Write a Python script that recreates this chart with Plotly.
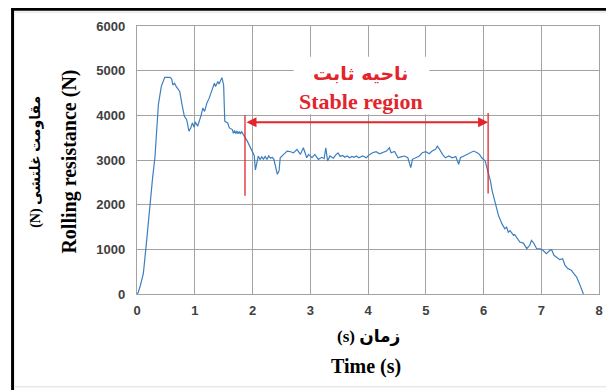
import plotly.graph_objects as go

# ---------------- data ----------------
time_s = [0.00, 0.02, 0.06, 0.11, 0.16, 0.22, 0.27, 0.31, 0.34, 0.37, 0.42, 0.48, 0.57, 0.60, 0.62, 0.65,
          0.68, 0.74, 0.78, 0.82, 0.86, 0.90, 0.93, 0.96, 0.99, 1.01, 1.05, 1.08, 1.11, 1.14, 1.17, 1.21,
          1.25, 1.30, 1.34, 1.36, 1.40, 1.42, 1.45, 1.47, 1.50, 1.52, 1.57, 1.60, 1.65, 1.67, 1.69, 1.71,
          1.73, 1.75, 1.77, 1.79, 1.81, 1.83, 1.85, 1.91, 1.97, 2.03, 2.05, 2.07, 2.10, 2.13, 2.16, 2.19,
          2.22, 2.25, 2.28, 2.31, 2.34, 2.37, 2.41, 2.43, 2.46, 2.48, 2.54, 2.60, 2.66, 2.71, 2.77, 2.83,
          2.88, 2.91, 2.94, 2.97, 3.00, 3.03, 3.08, 3.14, 3.20, 3.24, 3.27, 3.30, 3.34, 3.40, 3.44, 3.48,
          3.52, 3.56, 3.60, 3.64, 3.68, 3.72, 3.76, 3.80, 3.84, 3.88, 3.91, 3.97, 4.03, 4.08, 4.14, 4.20,
          4.26, 4.32, 4.37, 4.40, 4.46, 4.52, 4.57, 4.63, 4.69, 4.74, 4.77, 4.83, 4.89, 4.94, 5.00, 5.06,
          5.11, 5.17, 5.20, 5.24, 5.29, 5.34, 5.40, 5.46, 5.52, 5.57, 5.60, 5.66, 5.71, 5.77, 5.83, 5.89,
          5.93, 5.97, 6.03, 6.08, 6.12, 6.15, 6.18, 6.22, 6.26, 6.32, 6.37, 6.40, 6.43, 6.46, 6.52, 6.54,
          6.57, 6.63, 6.69, 6.75, 6.80, 6.83, 6.87, 6.92, 6.98, 7.03, 7.09, 7.15, 7.18, 7.22, 7.26, 7.32,
          7.37, 7.41, 7.46, 7.52, 7.56, 7.61, 7.66, 7.71, 7.73]

resistance_n = [0, 30, 200, 460, 1100, 2015, 2600, 3050, 3700, 4237, 4644, 4851, 4851, 4820, 4680, 4718,
                4644, 4533, 4237, 3978, 3904, 3644, 3718, 3830, 3733, 3852, 3756, 3867, 4000, 4163, 4089, 4274,
                4385, 4570, 4718, 4644, 4756, 4700, 4780, 4844, 4680, 3867, 3830, 3718, 3681, 3600, 3660, 3590,
                3650, 3590, 3640, 3580, 3640, 3580, 3550, 3422, 3250, 3100, 2780, 2900, 3089, 3010, 3070, 3020,
                3080, 3010, 3090, 3040, 3060, 3015, 2830, 2681, 2755, 3051, 3126, 3200, 3185, 3160, 3237, 3126,
                3274, 3160, 3051, 3126, 3080, 3051, 3126, 3015, 3060, 3030, 3274, 2977, 3090, 3040, 3110, 3160,
                3080, 3100, 3060, 3090, 3050, 3080, 3060, 3090, 3050, 3070, 3089, 3050, 3126, 3163, 3185, 3140,
                3170, 3200, 3274, 3163, 3190, 3051, 3070, 3089, 3050, 2830, 3015, 3060, 3090, 3163, 3185, 3140,
                3200, 3237, 3311, 3237, 3126, 3050, 3090, 3050, 3080, 2904, 3050, 3090, 3120, 3163, 3200, 3163,
                3126, 3050, 2977, 2720, 2533, 2311, 2163, 1941, 1756, 1570, 1459, 1496, 1385, 1420, 1311, 1330,
                1274, 1163, 1140, 1015, 1090, 1200, 1140, 1015, 1010, 978, 904, 978, 990, 867, 830, 770,
                790, 644, 570, 533, 460, 385, 237, 89, 0]

x_ticks = [0, 1, 2, 3, 4, 5, 6, 7, 8]
y_ticks = [0, 1000, 2000, 3000, 4000, 5000, 6000]

stable_start = 1.87
stable_end = 6.08
arrow_level = 3844

label_fa_region = "ناحیه ثابت"
label_en_region = "Stable region"
y_title_en = "Rolling resistance (N)"
y_title_fa = "(N) مقاومت غلتشی"
x_title_fa = "(s) زمان"
x_title_en = "Time (s)"

# ---------------- layout helpers (page pixel coordinates) ----------------
PAGE_W, PAGE_H = 614, 390
OFF = 8  # default body margin of the page
W, H = PAGE_W - OFF, PAGE_H - OFF
PL, PR, PT, PB = 137, 603, 24, 294  # plot area in page pixels
ML, MR, MT, MB = PL - OFF, PAGE_W - PR, PT - OFF, PAGE_H - PB
PW, PH = PR - PL, PB - PT


def px(xp):
    return (xp - PL) / PW


def py(yp):
    return (PB - yp) / PH


GRID = "#a3a3a3"
RED = "#e3242b"
BLUE = "#3b7fbf"
SERIF = "Liberation Serif, Times New Roman, DejaVu Sans, serif"

fig = go.Figure()
fig.add_trace(go.Scatter(x=time_s, y=resistance_n, mode="lines",
                         line=dict(color=BLUE, width=1.2), showlegend=False, hoverinfo="skip"))

shapes = [
    dict(type="rect", xref="paper", yref="paper", x0=px(295), x1=px(432), y0=py(113), y1=py(55),
         fillcolor="white", line=dict(width=0), layer="above"),
    dict(type="line", xref="x", yref="y", x0=stable_start, x1=stable_start, y0=2200, y1=4000,
         line=dict(color=RED, width=1.3)),
    dict(type="line", xref="x", yref="y", x0=stable_end, x1=stable_end, y0=2250, y1=4050,
         line=dict(color=RED, width=1.3)),
    dict(type="line", xref="paper", yref="paper", x0=px(11.5), x1=px(11.5), y0=py(6), y1=py(392),
         line=dict(color="black", width=3)),
    dict(type="line", xref="paper", yref="paper", x0=px(10), x1=px(616), y0=py(7), y1=py(7),
         line=dict(color="black", width=3)),
    dict(type="line", xref="paper", yref="paper", x0=px(14), x1=px(616), y0=py(387.5), y1=py(387.5),
         line=dict(color="#dcdcdc", width=1)),
    dict(type="line", xref="paper", yref="paper", x0=px(14), x1=px(616), y0=py(10), y1=py(10),
         line=dict(color="#dcdcdc", width=1)),
]


def label(xp, yp, text, font, angle=0):
    return dict(x=px(xp), y=py(yp), xref="paper", yref="paper", text=text, showarrow=False,
                xanchor="center", yanchor="middle", textangle=angle, font=font)


annotations = [
    dict(x=stable_end, y=arrow_level, ax=stable_start, ay=arrow_level, xref="x", yref="y",
         axref="x", ayref="y", text="", showarrow=True, arrowhead=2, arrowside="end+start",
         arrowsize=1, arrowwidth=2, arrowcolor=RED),
    label(362, 71, label_fa_region, dict(family="DejaVu Sans", size=19, color=RED, weight="bold")),
    label(363, 100, label_en_region, dict(family=SERIF, size=22, color=RED, weight="bold")),
    label(69, 161, y_title_en, dict(family=SERIF, size=20, color="black", weight="bold"), -90),
    label(35, 161, y_title_fa, dict(family=SERIF, size=14, color="black", weight="bold"), -90),
    label(371, 337, x_title_fa, dict(family=SERIF, size=17, color="black", weight="bold")),
    label(368, 367, x_title_en, dict(family=SERIF, size=20, color="black", weight="bold")),
]

tickfont = dict(family="Liberation Sans, Arial, sans-serif", size=13, color="#404040", weight="bold")

fig.update_layout(
    width=W, height=H,
    margin=dict(l=ML, r=MR, t=MT, b=MB, pad=0),
    paper_bgcolor="white", plot_bgcolor="white",
    shapes=shapes, annotations=annotations,
    xaxis=dict(range=[0, 8], tickvals=x_ticks, ticktext=[str(v) for v in x_ticks],
               showgrid=True, gridcolor=GRID, gridwidth=1.3, zeroline=False,
               showline=True, linecolor=GRID, linewidth=1.3, mirror=True,
               ticks="", tickfont=tickfont, ticklabelstandoff=4),
    yaxis=dict(range=[0, 6000], tickvals=y_ticks, ticktext=[str(v) for v in y_ticks],
               showgrid=True, gridcolor=GRID, gridwidth=1.3, zeroline=False,
               showline=True, linecolor=GRID, linewidth=1.3, mirror=True,
               ticks="", tickfont=tickfont, ticklabelstandoff=8),
)

fig.write_html("out.html")
